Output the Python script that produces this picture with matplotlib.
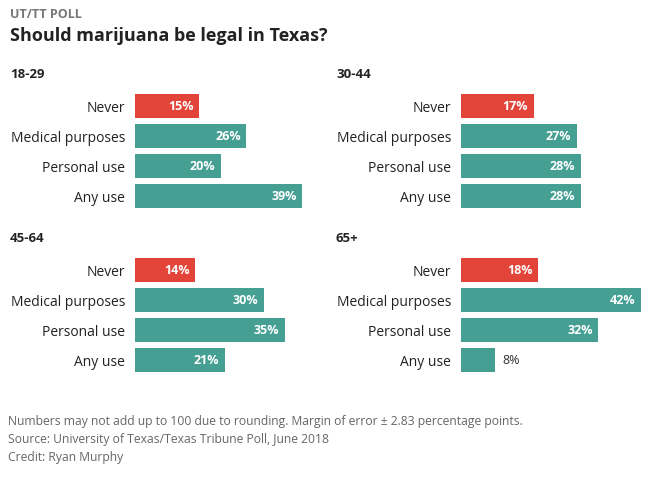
import matplotlib.pyplot as plt

plt.rcParams['font.family'] = ['Open Sans', 'DejaVu Sans']

groups = ['18-29', '30-44', '45-64', '65+']
answers = ['Never', 'Medical purposes', 'Personal use', 'Any use']
values = {
    '18-29': [15, 26, 20, 39],
    '30-44': [17, 27, 28, 28],
    '45-64': [14, 30, 35, 21],
    '65+': [18, 42, 32, 8],
}
red = '#e2443a'
teal = '#45a093'
colors = [red, teal, teal, teal]

W, H = 649, 478
fig = plt.figure(figsize=(W / 100, H / 100), dpi=100)

def px(x, y):
    return x / W, 1 - y / H

# header
fig.text(*px(10, 14), 'UT/TT POLL', fontsize=9, fontweight='bold', color='#777777', va='center')
fig.text(*px(10, 36), 'Should marijuana be legal in Texas?', fontsize=13, fontweight='bold',
         color='#222222', va='center')

# panel positions: (axes left px, axes top px, title x px, title y px)
panels = [(135, 91, 10, 75), (461, 91, 336, 75), (135, 255, 10, 239), (461, 255, 336, 239)]

for g, (left, top, tx, ty) in zip(groups, panels):
    fig.text(*px(tx, ty), g, fontsize=9.5, fontweight='bold', color='#222222', va='center')
    ax = fig.add_axes([left / W, 1 - (top + 120) / H, 180 / W, 120 / H])
    vals = values[g]
    ax.barh(range(4), vals, height=0.83, color=colors)
    ax.set_xlim(0, 42)
    ax.set_ylim(3.5, -0.5)
    ax.set_yticks(range(4))
    ax.set_yticklabels(answers, fontsize=10, color='#222222')
    ax.tick_params(axis='y', length=0, pad=7)
    ax.set_xticks([])
    for s in ax.spines.values():
        s.set_visible(False)
    for i, v in enumerate(vals):
        if v >= 12:
            ax.annotate(f'{v}%', (v, i), xytext=(-4, 0), textcoords='offset points',
                        ha='right', va='center', fontsize=9, fontweight='bold', color='white')
        else:
            ax.annotate(f'{v}%', (v, i), xytext=(5, 0), textcoords='offset points',
                        ha='left', va='center', fontsize=9, color='#333333')

foot = ['Numbers may not add up to 100 due to rounding. Margin of error \u00b1 2.83 percentage points.',
        'Source: University of Texas/Texas Tribune Poll, June 2018',
        'Credit: Ryan Murphy']
for k, line in enumerate(foot):
    fig.text(*px(8, 421 + 18 * k), line, fontsize=8.7, color='#666666', va='center')

fig.savefig('out.png', dpi=100)
